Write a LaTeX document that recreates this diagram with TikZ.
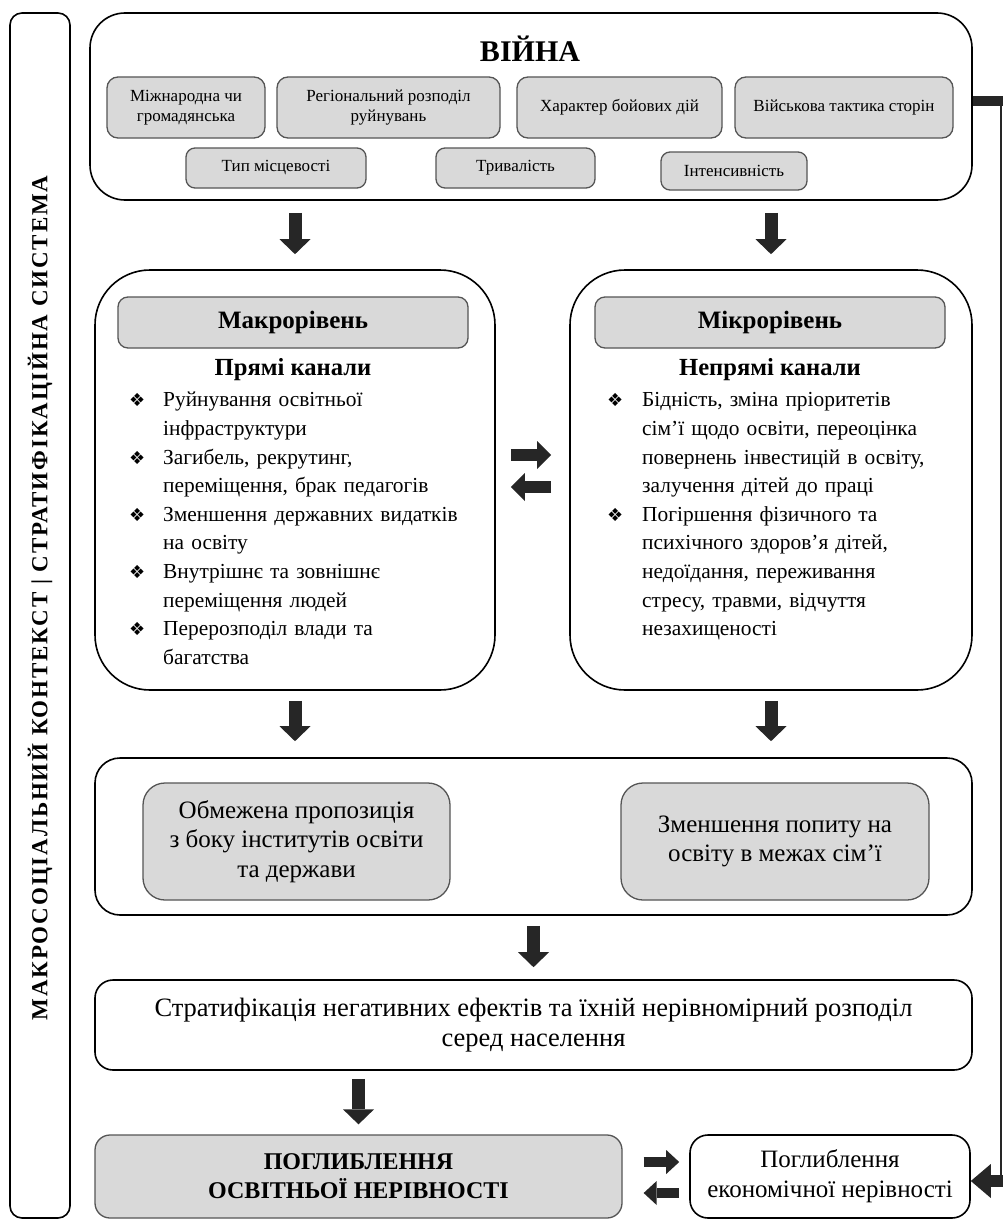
\documentclass[tikz,border=0pt]{standalone}
\usepackage{fontspec}
\setmainfont{Liberation Serif}
\newfontfamily\symfont{DejaVu Sans}
\newfontfamily\ctxfont[LetterSpace=8]{Liberation Serif}
\usetikzlibrary{positioning,arrows.meta}

\definecolor{boxgrey}{RGB}{217,217,217}
\definecolor{edgegrey}{RGB}{85,85,85}
\definecolor{arrowdark}{RGB}{38,38,38}

\newcommand{\fsz}[2]{\fontsize{#1}{#2}\selectfont}
% one bullet of a list, with a hanging indent
\newcommand{\bitem}[1][34pt]{\par\noindent\hangindent=#1\hangafter=1%
  \makebox[#1][l]{{\symfont\fsz{18}{18}❖}}\ignorespaces}

\tikzset{
  box/.style={draw, line width=1.6pt, rounded corners=#1, fill=white,
    inner sep=0pt, align=center},
  box/.default=18pt,
  greybox/.style={draw=edgegrey, line width=1.3pt, fill=boxgrey,
    rounded corners=#1, inner sep=0pt, align=center},
  greybox/.default=11pt,
  bigarrow/.style={draw=arrowdark, line width=13pt,
    -{Triangle[length=15pt,width=31pt,line width=0pt]}},
  sidearrow/.style={draw=arrowdark, line width=12pt,
    -{Triangle[length=14pt,width=28pt,line width=0pt]}},
  smallarrow/.style={draw=arrowdark, line width=10pt,
    -{Triangle[length=13pt,width=24pt,line width=0pt]}},
}

\begin{document}
\begin{tikzpicture}[x=1pt,y=-1pt]
  \useasboundingbox[fill=white] (0,0) rectangle (1003,1220);

  % context frame
  \node[box=12pt, minimum width=60pt, minimum height=1205pt] (ctx) at (40,615.5) {};
  \node[rotate=90, font=\ctxfont\bfseries\fsz{23}{23}] (ctxlabel) at (40,598)
    {МАКРОСОЦІАЛЬНИЙ КОНТЕКСТ | СТРАТИФІКАЦІЙНА СИСТЕМА};

  % war and its factors
  \node[box=35pt, minimum width=882pt, minimum height=187pt] (war) at (531,106.5) {};
  \node[font=\bfseries\fsz{30}{30}] (wartitle) at (530,49) {ВІЙНА};
  \node[greybox, minimum width=158pt, minimum height=61pt, font=\fsz{17}{20}] (f1) at (186,107.5)
    {Міжнародна чи\\громадянська};
  \node[greybox, minimum width=223pt, minimum height=61pt, font=\fsz{17}{20}] (f2) at (388.5,107.5)
    {Регіональний розподіл\\руйнувань};
  \node[greybox, minimum width=205pt, minimum height=61pt, font=\fsz{17}{20}] (f3) at (619.5,107.5)
    {Характер бойових дій};
  \node[greybox, minimum width=218pt, minimum height=61pt, font=\fsz{17}{20}] (f4) at (844,107.5)
    {Військова тактика сторін};
  \node[greybox=9pt, minimum width=180pt, minimum height=40pt, font=\fsz{17}{20}] (f5) at (276,168)
    {Тип місцевості};
  \node[greybox=9pt, minimum width=159pt, minimum height=40pt, font=\fsz{17}{20}] (f6) at (515.5,168)
    {Тривалість};
  \node[greybox=9pt, minimum width=146pt, minimum height=38pt, font=\fsz{17}{20}] (f7) at (734,171)
    {Інтенсивність};

  % two levels
  \node[box=55pt, minimum width=400pt, minimum height=420pt] (macro) at (295,480) {};
  \node[box=55pt, minimum width=402pt, minimum height=420pt] (micro) at (771,480) {};
  \node[greybox=10pt, minimum width=350pt, minimum height=51pt, font=\bfseries\fsz{25}{25}]
    (macrohead) at (293,322.5) {Макрорівень};
  \node[greybox=10pt, minimum width=350pt, minimum height=51pt, font=\bfseries\fsz{25}{25}]
    (microhead) at (770,322.5) {Мікрорівень};
  \node[font=\bfseries\fsz{24.6}{25}] (macrosub) at (293,370) {Прямі канали};
  \node[font=\bfseries\fsz{24.6}{25}] (microsub) at (770,370) {Непрямі канали};
  \node[anchor=north west, text width=345pt, align=left, inner sep=0pt, font=\fsz{21.4}{28.6}]
    (macrolist) at (129,378) {%
    \bitem Руйнування освітньої\newline інфраструктури
    \bitem Загибель, рекрутинг,\newline переміщення, брак педагогів
    \bitem Зменшення державних видатків\newline на освіту
    \bitem Внутрішнє та зовнішнє\newline переміщення людей
    \bitem Перерозподіл влади та\newline багатства\par};
  \node[anchor=north west, text width=350pt, align=left, inner sep=0pt, font=\fsz{21.4}{28.6}]
    (microlist) at (607,378) {%
    \bitem[35pt] Бідність, зміна пріоритетів\newline сім’ї щодо освіти, переоцінка\newline
      повернень інвестицій в освіту,\newline залучення дітей до праці
    \bitem[35pt] Погіршення фізичного та\newline психічного здоров’я дітей,\newline
      недоїдання, переживання\newline стресу, травми, відчуття\newline незахищеності\par};

  % supply and demand
  \node[box=25pt, minimum width=877pt, minimum height=157pt] (mid) at (533.5,836.5) {};
  \node[greybox=22pt, minimum width=307pt, minimum height=117pt, font=\fsz{25}{29.5}]
    (supply) at (296.5,841.5) {Обмежена пропозиція\\з боку інститутів освіти\\та держави};
  \node[greybox=22pt, minimum width=308pt, minimum height=117pt, font=\fsz{25}{29.5}]
    (demand) at (775,841.5) {Зменшення попиту на\\освіту в межах сім’ї};

  \node[box=18pt, minimum width=877pt, minimum height=90pt, font=\fsz{26.5}{30}] (strat) at (533.5,1025)
    {Стратифікація негативних ефектів та їхній нерівномірний розподіл\\серед населення};

  \node[greybox=15pt, minimum width=527pt, minimum height=83pt, font=\bfseries\fsz{24}{29}]
    (edu) at (358.5,1176.5) {ПОГЛИБЛЕННЯ\\ОСВІТНЬОЇ НЕРІВНОСТІ};
  \node[box=18pt, minimum width=280pt, minimum height=83pt, font=\fsz{25}{30}]
    (econ) at (830,1176.5) {Поглиблення\\економічної нерівності};

  % arrows
  \draw[bigarrow] ([yshift=-12pt]war.south -| macro.north) -- ([yshift=15pt]macro.north);
  \draw[bigarrow] ([yshift=-12pt]war.south -| micro.north) -- ([yshift=15pt]micro.north);
  \draw[sidearrow] ([xshift=15pt,yshift=25pt]macro.east) -- ([xshift=-18pt,yshift=25pt]micro.west);
  \draw[sidearrow] ([xshift=-18pt,yshift=-7pt]micro.west) -- ([xshift=15pt,yshift=-7pt]macro.east);
  \draw[bigarrow] ([yshift=-10pt]macro.south) -- ([yshift=16pt]mid.north -| macro.south);
  \draw[bigarrow] ([yshift=-10pt]micro.south) -- ([yshift=16pt]mid.north -| micro.south);
  \draw[bigarrow] ([yshift=-10pt]mid.south -| strat.north) -- ([yshift=12pt]strat.north);
  \draw[bigarrow] ([yshift=-8pt]strat.south -| edu.north) -- ([yshift=10pt]edu.north);
  \draw[smallarrow] ([xshift=21pt,yshift=14.5pt]edu.east) -- ([xshift=-10pt,yshift=14.5pt]econ.west);
  \draw[smallarrow] ([xshift=-10pt,yshift=-16.5pt]econ.west) -- ([xshift=21pt,yshift=-16.5pt]edu.east);

  % feedback from war to economic inequality
  \coordinate (fbtop) at (1001,101);
  \coordinate (fbbot) at (1001,1181);
  \draw[arrowdark, line width=10pt] (war.east |- fbtop) -- ([xshift=2pt]fbtop);
  \draw[arrowdark, line width=2pt] (fbtop) -- (fbbot);
  \draw[arrowdark, line width=12pt, -{Triangle[length=20pt,width=34pt,line width=0pt]}]
    ([xshift=2pt]fbbot) -- (econ.east |- fbbot);
\end{tikzpicture}
\end{document}
